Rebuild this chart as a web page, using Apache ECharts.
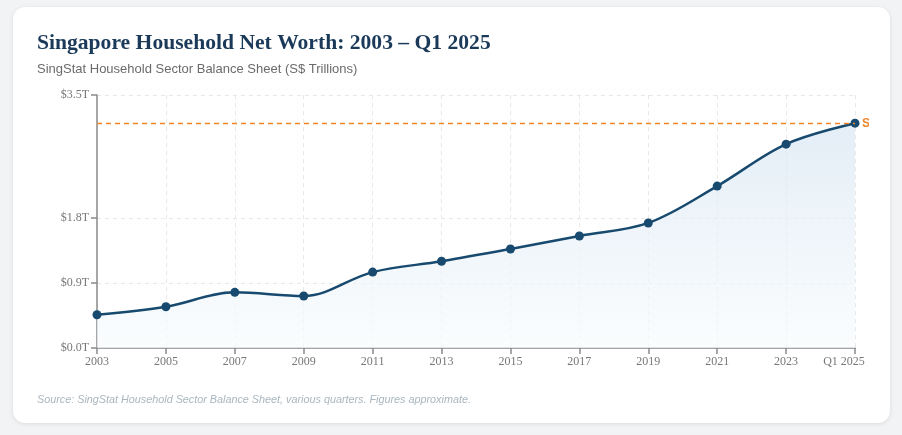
<!DOCTYPE html>
<html>
<head>
<meta charset="utf-8">
<script src="https://cdn.jsdelivr.net/npm/echarts@6/dist/echarts.min.js"></script>
<style>
html,body{margin:0;padding:0;background:#f1f3f5;width:902px;height:435px;overflow:hidden;}
#card{position:absolute;left:13px;top:7px;width:877px;height:416px;background:#fff;border-radius:12px;box-shadow:0 1px 4px rgba(0,0,0,0.10);overflow:hidden;}
#chart{position:absolute;left:0;top:0;width:856px;height:416px;}
</style>
</head>
<body>
<div id="card"><div id="chart"></div></div>
<script>
const categories = ['2003','2005','2007','2009','2011','2013','2015','2017','2019','2021','2023','Q1 2025'];
const netWorth = [0.46, 0.57, 0.77, 0.72, 1.05, 1.20, 1.37, 1.55, 1.73, 2.24, 2.82, 3.11];
const yTicks = [0, 0.9, 1.8, 3.5];
const latestValue = 3.11;
const latestLabel = 'S$3.1T';

const chart = echarts.init(document.getElementById('chart'));
const serif = '"Liberation Serif", "DejaVu Serif", serif';
const sans = '"Liberation Sans", Arial, sans-serif';
chart.setOption({
  animation: false,
  title: {
    text: 'Singapore Household Net Worth: 2003 \u2013 Q1 2025',
    subtext: 'SingStat Household Sector Balance Sheet (S$ Trillions)',
    left: 24, top: 25, itemGap: 9, padding: 0,
    textStyle: {fontFamily: serif, fontWeight: 'bold', fontSize: 21.6, color: '#1b3a5a'},
    subtextStyle: {fontFamily: sans, fontSize: 13, color: '#6b6b6b'}
  },
  graphic: [{
    type: 'text', left: 24, top: 387,
    style: {text: 'Source: SingStat Household Sector Balance Sheet, various quarters. Figures approximate.',
      fontFamily: sans, fontStyle: 'italic', fontSize: 10.8, fill: '#a9b6bf'}
  }],
  grid: {left: 84, right: 14, top: 88, bottom: 75, containLabel: false, outerBoundsMode: 'none'},
  xAxis: {
    type: 'category', data: categories, boundaryGap: false,
    axisLine: {lineStyle: {color: '#8a8a8a', width: 1.5}},
    axisTick: {show: true, interval: 0, alignWithLabel: true, length: 6, lineStyle: {color: '#8a8a8a', width: 1.5}},
    axisLabel: {interval: 0, hideOverlap: false, fontFamily: serif, fontSize: 12, color: '#777', margin: 8,
      formatter: (v, i) => i === categories.length - 1 ? '{last|' + v + '}' : v,
      rich: {last: {fontFamily: serif, fontSize: 12, color: '#777', padding: [0, 22, 0, 0]}}},
    splitLine: {show: true, interval: 0, lineStyle: {color: '#e8e8e8', type: [4, 4], width: 1}}
  },
  yAxis: {
    type: 'value', min: 0, max: 3.5,
    axisLine: {show: true, lineStyle: {color: '#8a8a8a', width: 1.5}},
    axisTick: {show: true, length: 6, customValues: yTicks, lineStyle: {color: '#8a8a8a', width: 1.5}},
    axisLabel: {customValues: yTicks, fontFamily: serif, fontSize: 12, color: '#777', margin: 8,
      formatter: v => '$' + v.toFixed(1) + 'T'},
    splitLine: {show: true, lineStyle: {color: '#e8e8e8', type: [4, 4], width: 1}}
  },
  series: [{
    type: 'line', data: netWorth, smooth: 0.35,
    symbol: 'circle', symbolSize: 9,
    lineStyle: {color: '#174a6e', width: 2.5},
    itemStyle: {color: '#174a6e'},
    areaStyle: {color: new echarts.graphic.LinearGradient(0, 0, 0, 1, [
      {offset: 0, color: '#d8e6f2'}, {offset: 1, color: '#f8fbfd'}])},
    markLine: {
      silent: true, symbol: 'none',
      lineStyle: {color: '#f0852a', type: [5, 4], width: 1.3},
      label: {show: true, position: 'end', formatter: latestLabel, color: '#f0852a',
        fontFamily: sans, fontSize: 12, fontWeight: 'bold', distance: 7},
      data: [{yAxis: latestValue}]
    },
    z: 3
  }]
});
</script>
</body>
</html>
